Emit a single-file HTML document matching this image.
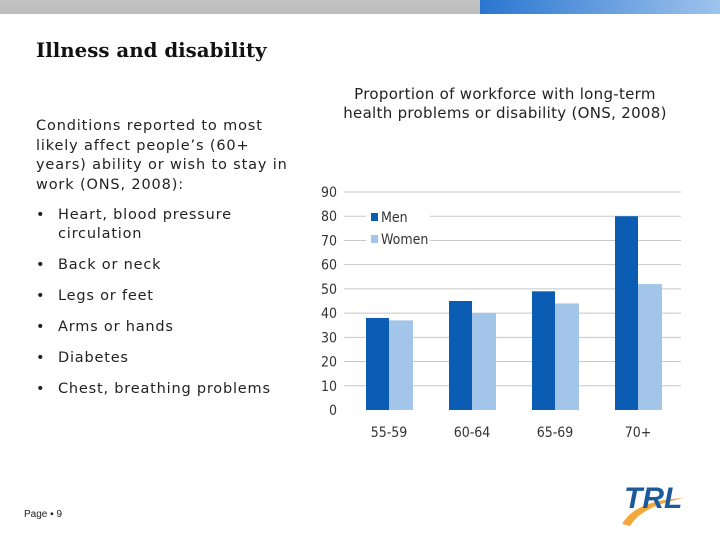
<!DOCTYPE html>
<html><head><meta charset="utf-8"><style>
body{margin:0;width:720px;height:540px;background:#fff;position:relative;overflow:hidden;font-family:"Liberation Sans","DejaVu Sans",sans-serif}
.a{position:absolute}
li{margin-bottom:12px;position:relative;padding-left:22px}
li::before{content:"•";position:absolute;left:0;top:0}
</style></head><body>
<div class="a" style="left:0;top:0;width:480px;height:14px;background:linear-gradient(#c4c4c4,#bdbdbd)"></div>
<div class="a" style="left:480px;top:0;width:240px;height:14px;background:linear-gradient(90deg,#2a76d0,#9ec3ec)"></div>
<div class="a" style="left:36px;top:38px;font-family:'DejaVu Serif','Liberation Serif',serif;font-weight:bold;font-size:19.8px;color:#111">Illness and disability</div>
<div class="a" style="left:36px;top:117px;width:256px;font-family:'DejaVu Sans',sans-serif;font-size:14.5px;letter-spacing:0.85px;line-height:19.5px;color:#222">Conditions reported to most likely affect people’s (60+ years) ability or wish to stay in work (ONS, 2008):</div>
<ul class="a" style="left:36px;top:206px;margin:0;padding:0;width:250px;font-family:'DejaVu Sans',sans-serif;font-size:14.5px;letter-spacing:0.8px;line-height:19px;color:#222;list-style:none">
<li>Heart, blood pressure circulation</li>
<li>Back or neck</li>
<li>Legs or feet</li>
<li>Arms or hands</li>
<li>Diabetes</li>
<li>Chest, breathing problems</li>
</ul>
<div class="a" style="left:332px;top:85px;width:346px;text-align:center;font-family:'DejaVu Sans',sans-serif;font-size:15px;letter-spacing:0.3px;line-height:19px;color:#222">Proportion of workforce with long-term health problems or disability (ONS, 2008)</div>
<svg class="a" style="left:0;top:0" width="720" height="540" id="ch"></svg>
<div class="a" style="left:24px;top:509px;font-size:10px;color:#222">Page ▪ 9</div>
<svg class="a" style="left:618px;top:480px" width="90" height="50">
<path d="M4 44 Q18 20 66 18 Q24 26 12 46 Z" fill="#f2a83a"/>
<text x="6" y="28" font-family="Liberation Sans" font-weight="bold" font-style="italic" font-size="30" fill="#1d5a9a">TRL</text>
</svg>
<script>
const categories=["55-59","60-64","65-69","70+"];
const men=[38,45,49,80];
const women=[37,40,44,52];
const ticks=[0,10,20,30,40,50,60,70,80,90];
const svg=document.getElementById('ch'),NS="http://www.w3.org/2000/svg";
const y=v=>410-v*(218/90), cx=i=>389+i*83;
function mk(t,a,p){const e=document.createElementNS(NS,t);for(const k in a)e.setAttribute(k,a[k]);(p||svg).appendChild(e);return e;}
ticks.forEach(t=>{
 if(t>0){const g=mk('line',{x1:344,x2:681,y1:y(t),y2:y(t),stroke:'#c8c8c8'});
 
 }
 const l=mk('text',{x:337,y:y(t)+5,'text-anchor':'end','font-size':14,fill:'#333','font-family':'DejaVu Sans Condensed, DejaVu Sans'});l.textContent=t;
 
 
});
categories.forEach((c,i)=>{
 const m=mk('rect',{x:cx(i)-23,y:y(men[i]),width:23,height:410-y(men[i]),fill:'#0a5db3'});
 
 
 const w=mk('rect',{x:cx(i),y:y(women[i]),width:24,height:410-y(women[i]),fill:'#a3c5ea'});
 
 
 const l=mk('text',{x:cx(i),y:437,'text-anchor':'middle','font-size':14,fill:'#333','font-family':'DejaVu Sans Condensed, DejaVu Sans'});l.textContent=c;
 
 
});
[['Men','#0a5db3',217],['Women','#a3c5ea',239]].forEach(([n,c,yy])=>{
 const bg=mk('rect',{x:366,y:yy-10,width:64,height:20,fill:'#fff'});
 
 
 const s=mk('rect',{x:371,y:yy-4,width:7,height:8,fill:c});
 
 
 const t=mk('text',{x:381,y:yy+5,'font-size':14,fill:'#333','font-family':'DejaVu Sans Condensed, DejaVu Sans'});t.textContent=n;
 
 
});
</script>
</body></html>
